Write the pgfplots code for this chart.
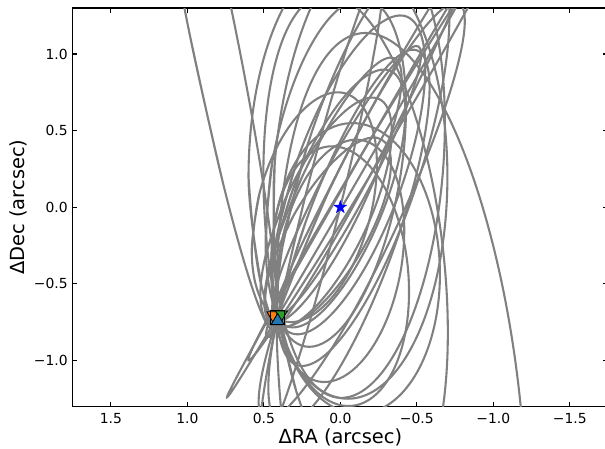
\documentclass[border=0pt]{standalone}
\usepackage{fontspec}
\setmainfont{DejaVu Sans}
\usepackage{pgfplots}
\pgfplotsset{compat=1.18}

\definecolor{mplblue}{HTML}{1F77B4}
\definecolor{mplorange}{HTML}{FF7F0E}
\definecolor{mplgreen}{HTML}{2CA02C}

% filled five-point star (matplotlib '*')
\pgfdeclareplotmark{fstar}{%
  \pgfpathmoveto{\pgfqpointpolar{90}{\pgfplotmarksize}}%
  \pgfpathlineto{\pgfqpointpolar{126}{0.382\pgfplotmarksize}}%
  \pgfpathlineto{\pgfqpointpolar{162}{\pgfplotmarksize}}%
  \pgfpathlineto{\pgfqpointpolar{198}{0.382\pgfplotmarksize}}%
  \pgfpathlineto{\pgfqpointpolar{234}{\pgfplotmarksize}}%
  \pgfpathlineto{\pgfqpointpolar{270}{0.382\pgfplotmarksize}}%
  \pgfpathlineto{\pgfqpointpolar{306}{\pgfplotmarksize}}%
  \pgfpathlineto{\pgfqpointpolar{342}{0.382\pgfplotmarksize}}%
  \pgfpathlineto{\pgfqpointpolar{18}{\pgfplotmarksize}}%
  \pgfpathlineto{\pgfqpointpolar{54}{0.382\pgfplotmarksize}}%
  \pgfpathclose
  \pgfusepathqfillstroke
}

\tikzset{orb/.style={gray, line width=1.5pt, smooth, tension=0.63, mark=none}}

\begin{document}
\begin{tikzpicture}
\begin{axis}[
  scale only axis, width=385.8pt, height=287pt,
  xmin=-1.75, xmax=1.75, ymin=-1.3, ymax=1.3,
  x dir=reverse,
  xtick={-1.5,-1,-0.5,0,0.5,1,1.5},
  xticklabels={−1.5,−1.0,−0.5,0.0,0.5,1.0,1.5},
  ytick={-1,-0.5,0,0.5,1},
  yticklabels={−1.0,−0.5,0.0,0.5,1.0},
  tick align=inside, major tick length=3.5pt,
  every tick/.style={black, line width=0.8pt},
  axis line style={line width=0.8pt},
  tick label style={font=\fontsize{10}{12}\selectfont},
  xticklabel style={yshift=-1.3pt},
  xlabel={ΔRA (arcsec)}, ylabel={ΔDec (arcsec)},
  label style={font=\fontsize{14}{17}\selectfont},
  xlabel style={at={(axis description cs:0.5,-0.0775)}, anchor=center},
  ylabel style={at={(axis description cs:-0.1015,0.5)}, anchor=center},
]
% orbit fits (RA, Dec in arcsec)
\addplot[orb] coordinates {(-0.134,0.334) (0.313,-0.448) (0.632,-1.024) (0.740,-1.240) (0.606,-1.039) (0.268,-0.474) (-0.186,0.304) (-0.633,1.086) (-0.952,1.662) (-1.060,1.878) (-0.926,1.677) (-0.588,1.112) (-0.134,0.334) (0.313,-0.448)};
\addplot[orb] coordinates {(-0.173,0.402) (0.233,-0.288) (0.515,-0.801) (0.600,-1.000) (0.464,-0.832) (0.144,-0.341) (-0.275,0.340) (-0.681,1.030) (-0.963,1.543) (-1.048,1.742) (-0.912,1.574) (-0.592,1.083) (-0.173,0.402) (0.233,-0.288)};
\addplot[orb] coordinates {(-0.089,0.433) (0.228,-0.192) (0.436,-0.661) (0.480,-0.850) (0.347,-0.708) (0.075,-0.273) (-0.265,0.339) (-0.582,0.964) (-0.790,1.433) (-0.834,1.622) (-0.701,1.480) (-0.429,1.045) (-0.089,0.433) (0.228,-0.192)};
\addplot[orb] coordinates {(0.092,0.237) (0.308,-0.214) (0.431,-0.563) (0.428,-0.716) (0.299,-0.633) (0.079,-0.335) (-0.174,0.097) (-0.390,0.548) (-0.513,0.897) (-0.510,1.050) (-0.381,0.967) (-0.161,0.669) (0.092,0.237) (0.308,-0.214)};
\addplot[orb] coordinates {(0.247,0.204) (0.422,-0.239) (0.496,-0.588) (0.450,-0.750) (0.296,-0.681) (0.076,-0.400) (-0.151,0.018) (-0.326,0.461) (-0.400,0.810) (-0.354,0.972) (-0.200,0.903) (0.020,0.622) (0.247,0.204) (0.422,-0.239)};
\addplot[orb] coordinates {(0.347,0.081) (0.486,-0.306) (0.520,-0.621) (0.440,-0.780) (0.267,-0.740) (0.047,-0.511) (-0.161,-0.155) (-0.300,0.232) (-0.334,0.547) (-0.254,0.706) (-0.081,0.666) (0.139,0.437) (0.347,0.081) (0.486,-0.306)};
\addplot[orb] coordinates {(0.297,-0.039) (0.443,-0.359) (0.491,-0.627) (0.430,-0.770) (0.275,-0.752) (0.068,-0.575) (-0.137,-0.289) (-0.283,0.031) (-0.331,0.299) (-0.270,0.442) (-0.115,0.424) (0.093,0.247) (0.297,-0.039) (0.443,-0.359)};
\addplot[orb] coordinates {(0.527,0.096) (0.579,-0.289) (0.521,-0.596) (0.369,-0.744) (0.164,-0.692) (-0.040,-0.455) (-0.187,-0.096) (-0.239,0.289) (-0.181,0.596) (-0.029,0.744) (0.176,0.692) (0.380,0.455) (0.527,0.096) (0.579,-0.289)};
\addplot[orb] coordinates {(0.273,0.331) (0.417,-0.202) (0.434,-0.625) (0.320,-0.823) (0.105,-0.744) (-0.153,-0.410) (-0.385,0.091) (-0.529,0.624) (-0.546,1.047) (-0.432,1.245) (-0.217,1.166) (0.041,0.832) (0.273,0.331) (0.417,-0.202)};
\addplot[orb] coordinates {(0.985,1.130) (0.766,0.154) (0.567,-0.552) (0.440,-0.800) (0.420,-0.523) (0.512,0.206) (0.691,1.190) (0.910,2.166) (1.109,2.872) (1.236,3.120) (1.256,2.843) (1.164,2.114) (0.985,1.130) (0.766,0.154)};
\addplot[orb] coordinates {(0.600,0.200) (0.513,-0.525) (0.275,-1.056) (-0.050,-1.250) (-0.375,-1.056) (-0.613,-0.525) (-0.700,0.200) (-0.613,0.925) (-0.375,1.456) (-0.050,1.650) (0.275,1.456) (0.513,0.925) (0.600,0.200) (0.513,-0.525)};
\addplot[orb] coordinates {(0.428,0.298) (0.420,-0.456) (0.267,-1.020) (0.011,-1.244) (-0.281,-1.068) (-0.529,-0.539) (-0.668,0.202) (-0.660,0.956) (-0.507,1.520) (-0.251,1.744) (0.041,1.568) (0.289,1.039) (0.428,0.298) (0.420,-0.456)};
\addplot[orb] coordinates {(0.466,-0.370) (0.287,-1.204) (0.003,-1.797) (-0.307,-1.988) (-0.563,-1.727) (-0.694,-1.084) (-0.666,-0.231) (-0.487,0.604) (-0.203,1.197) (0.107,1.388) (0.363,1.127) (0.494,0.484) (0.466,-0.370) (0.287,-1.204)};
\addplot[orb] coordinates {(0.443,-0.489) (0.347,-0.907) (0.158,-1.203) (-0.074,-1.297) (-0.286,-1.164) (-0.421,-0.840) (-0.443,-0.411) (-0.347,0.007) (-0.158,0.303) (0.074,0.397) (0.286,0.264) (0.421,-0.060) (0.443,-0.489) (0.347,-0.907)};
\addplot[orb] coordinates {(0.450,-0.419) (0.359,-0.891) (0.146,-1.232) (-0.133,-1.349) (-0.404,-1.212) (-0.593,-0.858) (-0.650,-0.381) (-0.559,0.091) (-0.346,0.432) (-0.067,0.549) (0.204,0.412) (0.393,0.058) (0.450,-0.419) (0.359,-0.891)};
\addplot[orb] coordinates {(0.394,-0.280) (0.411,-0.684) (0.318,-0.998) (0.139,-1.138) (-0.077,-1.067) (-0.272,-0.804) (-0.394,-0.420) (-0.411,-0.016) (-0.318,0.298) (-0.139,0.438) (0.077,0.367) (0.272,0.104) (0.394,-0.280) (0.411,-0.684)};
\addplot[orb] coordinates {(0.211,0.417) (0.379,-0.264) (0.405,-0.794) (0.283,-1.031) (0.044,-0.912) (-0.247,-0.467) (-0.511,0.183) (-0.679,0.864) (-0.705,1.394) (-0.583,1.631) (-0.344,1.512) (-0.053,1.067) (0.211,0.417) (0.379,-0.264)};
\addplot[orb, tension=0.61] coordinates {(-1.217,-1.915) (-1.176,-1.269) (-1.082,-0.627) (-0.941,-0.036) (-0.764,0.465) (-0.562,0.844) (-0.349,1.073) (-0.139,1.136) (0.053,1.031) (0.214,0.762) (0.333,0.350) (0.402,-0.178) (0.417,-0.785) (0.376,-1.432) (0.282,-2.073)};
\addplot[orb] coordinates {(0.239,0.031) (0.417,-0.749) (0.517,-1.328) (0.510,-1.550) (0.400,-1.357) (0.216,-0.799) (0.007,-0.027) (-0.171,0.753) (-0.271,1.332) (-0.264,1.554) (-0.154,1.361) (0.030,0.803) (0.239,0.031) (0.417,-0.749)};
\addplot[orb] coordinates {(0.226,-0.095) (0.410,-0.720) (0.470,-1.205) (0.388,-1.420) (0.188,-1.308) (-0.078,-0.898) (-0.339,-0.301) (-0.523,0.324) (-0.583,0.809) (-0.501,1.024) (-0.301,0.912) (-0.035,0.502) (0.226,-0.095) (0.410,-0.720)};
\addplot[orb] coordinates {(0.087,0.079) (0.374,-0.615) (0.523,-1.151) (0.495,-1.386) (0.297,-1.256) (-0.019,-0.798) (-0.366,-0.132) (-0.653,0.561) (-0.803,1.097) (-0.774,1.332) (-0.576,1.203) (-0.261,0.745) (0.087,0.079) (0.374,-0.615)};
\addplot[orb] coordinates {(0.290,0.170) (0.422,-0.263) (0.443,-0.609) (0.350,-0.777) (0.165,-0.722) (-0.060,-0.457) (-0.266,-0.056) (-0.398,0.377) (-0.419,0.723) (-0.326,0.891) (-0.141,0.836) (0.084,0.571) (0.290,0.170) (0.422,-0.263)};
\addplot[orb] coordinates {(0.444,0.298) (0.488,-0.279) (0.410,-0.720) (0.230,-0.909) (-0.004,-0.793) (-0.228,-0.405) (-0.384,0.151) (-0.428,0.728) (-0.350,1.169) (-0.170,1.358) (0.064,1.242) (0.288,0.854) (0.444,0.298) (0.488,-0.279)};

% astrometric epochs
\addplot[only marks, mark=triangle*, mark size=5pt,
  mark options={rotate=180, fill=mplorange, draw=black, line width=0.6pt}]
  coordinates {(0.44,-0.705)};
\addplot[only marks, mark=triangle*, mark size=5pt,
  mark options={rotate=180, fill=mplgreen, draw=black, line width=0.6pt}]
  coordinates {(0.385,-0.700)};
\addplot[only marks, mark=triangle*, mark size=5.4pt,
  mark options={fill=mplblue, draw=black, line width=0.6pt}]
  coordinates {(0.41,-0.742)};
\addplot[only marks, mark=square, mark size=5pt,
  mark options={draw=black, line width=1pt}]
  coordinates {(0.41,-0.720)};
% host star
\addplot[only marks, mark=fstar, mark size=4.8pt,
  mark options={fill=blue, draw=blue, line width=0.3pt}]
  coordinates {(0,0)};
\end{axis}
\pgfresetboundingbox
\path[use as bounding box] ([xshift=-52.3pt,yshift=-30.5pt]current axis.south west)
  rectangle ([xshift=-2.2pt,yshift=5.8pt]current axis.north east);
\end{tikzpicture}
\end{document}
